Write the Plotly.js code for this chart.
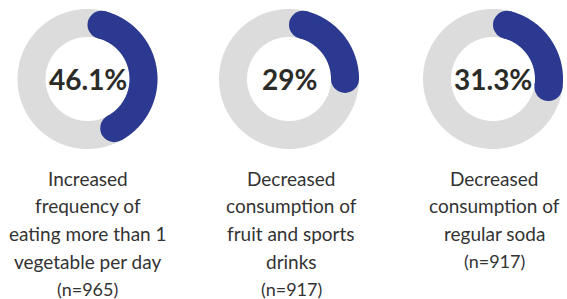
<!DOCTYPE html>
<html><head><meta charset="utf-8">
<script src="https://cdn.plot.ly/plotly-3.0.1.min.js"></script>
<style>html,body{margin:0;padding:0;background:#fff;overflow:hidden}</style>
</head><body><div id="chart" style="width:567px;height:299px"></div>
<script>
// ---- data ----
const categories = ["Increased frequency of eating more than 1 vegetable per day", "Decreased consumption of fruit and sports drinks", "Decreased consumption of regular soda"];
const percentValues = [46.1, 29, 31.3];
const percentLabels = ["46.1%", "29%", "31.3%"];
const sampleSizes = ["(n=965)", "(n=917)", "(n=917)"];
const labelLines = [
  ["Increased", "frequency of", "eating more than 1", "vegetable per day"],
  ["Decreased", "consumption of", "fruit and sports", "drinks"],
  ["Decreased", "consumption of", "regular soda"]
];

// ---- layout constants ----
const W = 567, H = 299;
const centersX = [87.5, 289, 493];
const labelX = [87.5, 291, 494];
const cy = 79;
const ringR = 56, ringW = 28;
const capDeg = Math.asin((ringW / 2) / ringR) * 180 / Math.PI;
const BLUE = '#2b3990', GRAY = '#dcdcdc';

function arcPoints(cx, a0, a1) {
  const xs = [], ys = [];
  const n = Math.max(2, Math.ceil(Math.abs(a1 - a0) * 2));
  for (let i = 0; i <= n; i++) {
    const t = (a0 + (a1 - a0) * i / n) * Math.PI / 180;
    xs.push(cx + ringR * Math.sin(t));
    ys.push(cy - ringR * Math.cos(t));
  }
  return {xs, ys};
}

const traces = [];
const annotations = [];
percentValues.forEach((v, i) => {
  const cx = centersX[i];
  const ring = arcPoints(cx, 0, 362);
  traces.push({type: 'scatter', mode: 'lines', x: ring.xs, y: ring.ys,
    line: {color: GRAY, width: ringW, simplify: false}, hoverinfo: 'skip', showlegend: false});
  const a0 = capDeg, a1 = v * 3.6 - capDeg;
  const arc = arcPoints(cx, a0, a1);
  traces.push({type: 'scatter', mode: 'lines', x: arc.xs, y: arc.ys, name: categories[i],
    line: {color: BLUE, width: ringW, simplify: false}, hoverinfo: 'skip', showlegend: false});
  traces.push({type: 'scatter', mode: 'markers',
    x: [arc.xs[0], arc.xs[arc.xs.length - 1]], y: [arc.ys[0], arc.ys[arc.ys.length - 1]],
    marker: {color: BLUE, size: ringW, line: {width: 0}}, hoverinfo: 'skip', showlegend: false});
  annotations.push({x: cx, y: cy, xref: 'x', yref: 'y', text: percentLabels[i], showarrow: false,
    xanchor: 'center', yanchor: 'middle',
    font: {family: 'Lato, "Open Sans", sans-serif', size: 28, weight: 700, color: '#2b2c28'}});
  const lines = labelLines[i].concat([sampleSizes[i]]);
  lines.forEach((ln, j) => {
    annotations.push({x: labelX[i], y: 178 + 27.8 * j, xref: 'x', yref: 'y', text: ln, showarrow: false,
      xanchor: 'center', yanchor: 'middle',
      font: {family: 'Lato, "Open Sans", sans-serif', size: j === lines.length - 1 ? 18 : 19, color: '#333333'}});
  });
});

const layout = {
  width: W, height: H, margin: {l: 0, r: 0, t: 0, b: 0, pad: 0},
  paper_bgcolor: '#ffffff', plot_bgcolor: '#ffffff',
  xaxis: {range: [0, W], visible: false, fixedrange: true},
  yaxis: {range: [H, 0], visible: false, fixedrange: true},
  showlegend: false, annotations: annotations
};
Plotly.newPlot('chart', traces, layout, {staticPlot: true, displayModeBar: false});
</script></body></html>
